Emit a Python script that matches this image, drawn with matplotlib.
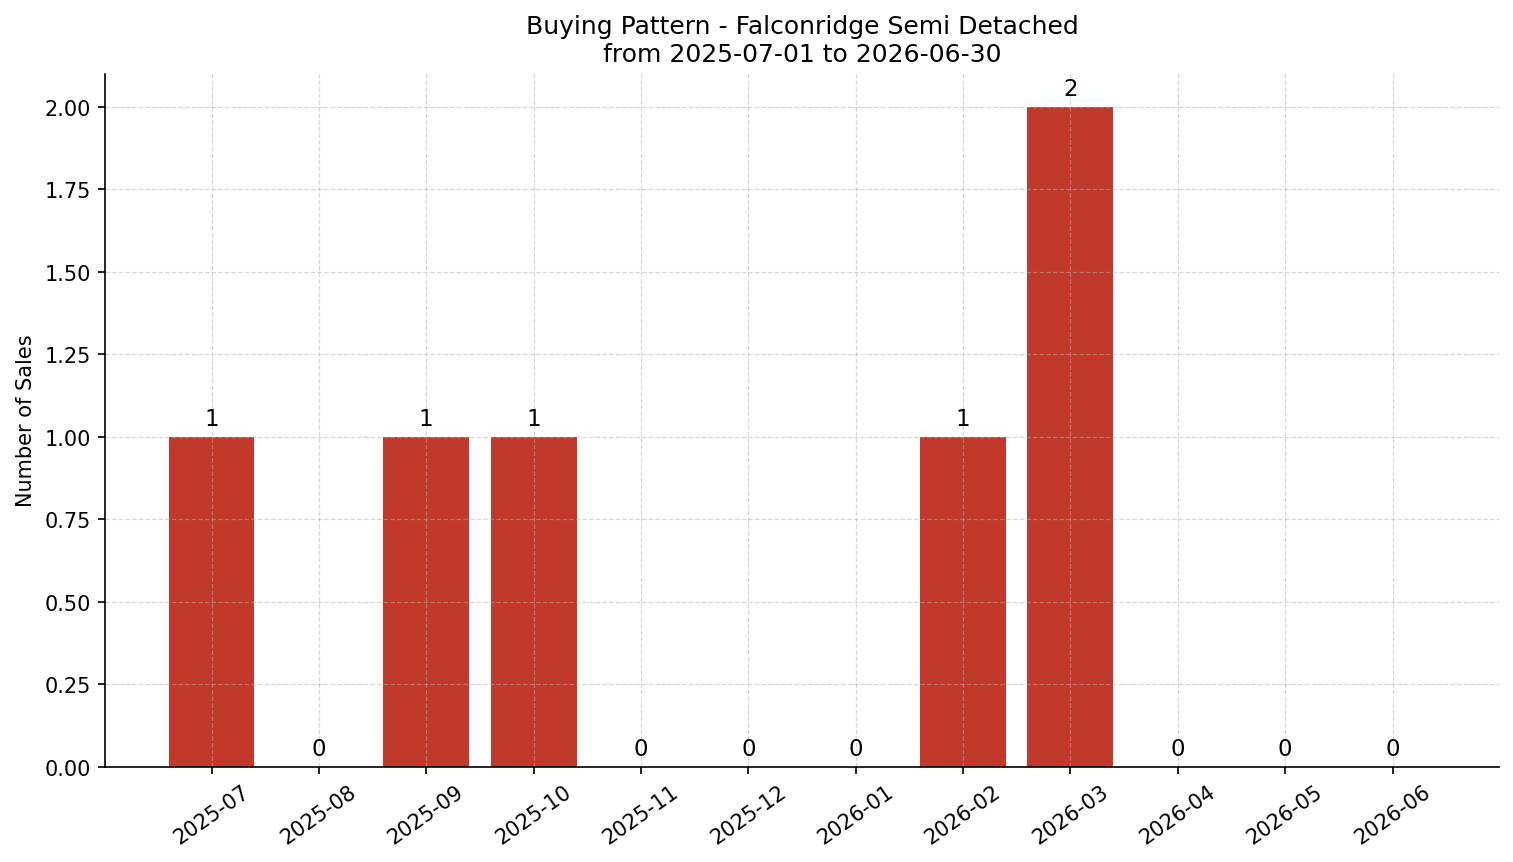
import matplotlib
matplotlib.use("Agg")
import matplotlib.pyplot as plt

months = ["2025-07", "2025-08", "2025-09", "2025-10", "2025-11", "2025-12",
          "2026-01", "2026-02", "2026-03", "2026-04", "2026-05", "2026-06"]
sales = [1, 0, 1, 1, 0, 0, 0, 1, 2, 0, 0, 0]

fig, ax = plt.subplots(figsize=(10.093, 5.753), dpi=150)
bars = ax.bar(months, sales, color="#c0392b")
for rect, v in zip(bars, sales):
    ax.text(rect.get_x() + rect.get_width() / 2, v + 0.02, str(v),
            ha="center", va="bottom", fontsize=11)

ax.set_title("Buying Pattern - Falconridge Semi Detached\nfrom 2025-07-01 to 2026-06-30", fontsize=12)
ax.set_ylabel("Number of Sales")
ax.set_ylim(0, 2.1)
ax.grid(True, linestyle="--", color="#b0b0b0", alpha=0.5, linewidth=0.6)
ax.spines["top"].set_visible(False)
ax.spines["right"].set_visible(False)
plt.setp(ax.get_xticklabels(), rotation=35)
fig.subplots_adjust(left=0.0695, right=0.99, top=0.9135, bottom=0.1105)
fig.savefig("out.png", dpi=150)
